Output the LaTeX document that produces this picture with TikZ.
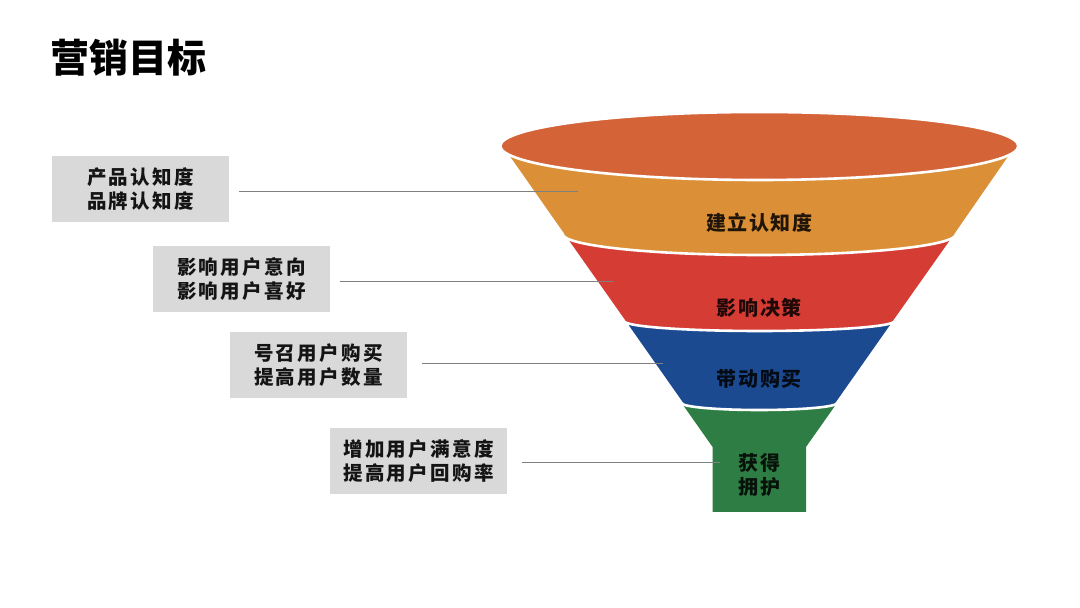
\documentclass[tikz,border=0pt]{standalone}
\usepackage{fontspec}
\newfontfamily\cjk{Noto Sans CJK SC}
\newfontfamily\cjkbox[LetterSpace=12]{Noto Sans CJK SC}
\newfontfamily\cjkfun[LetterSpace=8]{Noto Sans CJK SC}
\definecolor{topc}{RGB}{212,100,56}
\definecolor{orangec}{RGB}{219,143,54}
\definecolor{redc}{RGB}{213,60,52}
\definecolor{bluec}{RGB}{27,74,145}
\definecolor{greenc}{RGB}{46,125,68}
\definecolor{boxgray}{RGB}{217,217,217}
\definecolor{conngray}{RGB}{128,128,128}
\definecolor{textdark}{RGB}{20,20,20}
\begin{document}
\begin{tikzpicture}[x=1pt,y=1pt,
  lbl/.style={fill=boxgray, minimum width=177pt, minimum height=66pt, inner sep=0pt, align=center,
    font=\cjkbox\bfseries\fontsize{19.5}{24}\selectfont, text=textdark},
  conn/.style={draw=conngray, line width=0.9pt},
  sep/.style={draw=white, line width=2.6pt},
  flbl/.style={font=\cjkfun\bfseries\fontsize{20}{24}\selectfont, text=black, text opacity=0.85, align=center, inner sep=0pt}]
\useasboundingbox[fill=white] (0,0) rectangle (1080,608);
% title
\node[anchor=west, inner sep=0pt, font=\cjk\bfseries\fontsize{39}{41}\selectfont, text=black] (title) at (50.5,550.5) {营销目标};
% funnel (bottom to top)
\path[fill=greenc] (681.6,205) -- (712.6,161) -- (712.6,96) -- (806,96) -- (806,161) -- (837,205) -- cycle;
\path[fill=bluec, sep] (624,287) -- (681.6,205) arc[start angle=180, end angle=360, x radius=77.7, y radius=7] -- (894.6,287) -- cycle;
\path[fill=redc, sep] (562.7,374) -- (624,287) arc[start angle=180, end angle=360, x radius=135.3, y radius=10] -- (956,374) -- cycle;
\path[fill=orangec, sep] (501,462) -- (562.7,374) arc[start angle=180, end angle=360, x radius=196.65, y radius=21] -- (1017,462) -- cycle;
\path[fill=topc, sep] (759.3,462) ellipse[x radius=259, y radius=34];
% funnel labels
\node[flbl] (f1) at (759.3,385) {建立认知度};
\node[flbl] (f2) at (759.3,300) {影响决策};
\node[flbl] (f3) at (759.3,229) {带动购买};
\node[flbl] (f4) at (759.3,133) {获得\\拥护};
% left labels
\node[lbl] (b1) at (140.5,419) {产品认知度\\品牌认知度};
\node[lbl] (b2) at (241.5,329) {影响用户意向\\影响用户喜好};
\node[lbl] (b3) at (318.5,242.5) {号召用户购买\\提高用户数量};
\node[lbl] (b4) at (418.5,146.5) {增加用户满意度\\提高用户回购率};
% connector ends
\coordinate (e1) at (578,417);
\coordinate (e2) at (613,327);
\coordinate (e3) at (663,245);
\coordinate (e4) at (720,146);
\draw[conn] ([xshift=10pt]b1.east |- e1) -- (e1);
\draw[conn] ([xshift=10pt]b2.east |- e2) -- (e2);
\draw[conn] ([xshift=15pt]b3.east |- e3) -- (e3);
\draw[conn] ([xshift=15pt]b4.east |- e4) -- (e4);
\end{tikzpicture}
\end{document}
